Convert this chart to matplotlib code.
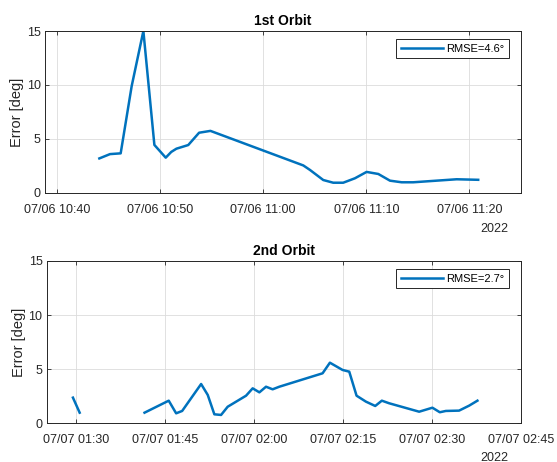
import numpy as np
import pandas as pd
import matplotlib
matplotlib.use("Agg")
import matplotlib.pyplot as plt
import matplotlib.dates as mdates

plt.rcParams["font.family"] = ["Liberation Sans", "DejaVu Sans"]

# 1st orbit (2022-07-06)
orbit1_time = ["10:44:08", "10:45:10", "10:46:12", "10:47:16", "10:48:24", "10:49:28",
               "10:50:34", "10:51:06", "10:51:36", "10:52:45", "10:53:48", "10:54:54",
               "11:03:54", "11:04:33", "11:05:50", "11:06:48", "11:07:46", "11:08:54",
               "11:10:02", "11:11:10", "11:12:18", "11:13:26", "11:14:33", "11:18:46",
               "11:20:51"]
orbit1_err = [3.2, 3.6, 3.67, 9.9, 15.0, 4.45,
              3.27, 3.8, 4.1, 4.44, 5.58, 5.75,
              2.55, 2.13, 1.2, 0.95, 0.95, 1.36,
              1.95, 1.76, 1.14, 0.99, 0.99, 1.27,
              1.22]

# 2nd orbit (2022-07-07), NaN marks the data gap
orbit2_time = ["01:29:26", "01:30:34", "01:36:00", "01:41:31", "01:45:36", "01:46:51",
               "01:47:52", "01:51:04", "01:52:11", "01:53:18", "01:54:26", "01:55:33",
               "01:58:39", "01:59:46", "02:00:54", "02:02:01", "02:03:08", "02:04:16",
               "02:11:34", "02:12:48", "02:14:56", "02:16:04", "02:17:18", "02:18:53",
               "02:20:27", "02:21:34", "02:22:48", "02:27:52", "02:30:06", "02:31:21",
               "02:32:22", "02:34:36", "02:36:18", "02:37:42"]
orbit2_err = [2.37, 0.98, np.nan, 0.98, 2.09, 0.92,
              1.14, 3.63, 2.62, 0.83, 0.77, 1.53,
              2.55, 3.23, 2.86, 3.38, 3.14, 3.38,
              4.62, 5.6, 4.93, 4.77, 2.55, 2.0,
              1.6, 2.09, 1.85, 1.07, 1.44, 1.02,
              1.14, 1.17, 1.63, 2.09]

panels = [
    dict(day="2022-07-06", time=orbit1_time, err=orbit1_err, title="1st Orbit",
         rmse="RMSE=4.6°", xlim=("10:38:52", "11:24:58"), step=10,
         rect=[0.0808, 0.5823, 0.854, 0.3506], year_dy=-26),
    dict(day="2022-07-07", time=orbit2_time, err=orbit2_err, title="2nd Orbit",
         rmse="RMSE=2.7°", xlim=("01:25:00", "02:45:00"), step=15,
         rect=[0.0838, 0.0838, 0.851, 0.3513], year_dy=-25),
]

blue = "#0072BD"
dark = "#262626"

fig = plt.figure(figsize=(5.57, 4.62), dpi=100)

for p in panels:
    ax = fig.add_axes(p["rect"])
    t = pd.to_datetime([p["day"] + " " + s for s in p["time"]])
    ax.plot(t, p["err"], color=blue, linewidth=1.8, label=p["rmse"])

    ax.set_xlim(pd.Timestamp(p["day"] + " " + p["xlim"][0]),
                pd.Timestamp(p["day"] + " " + p["xlim"][1]))
    ax.set_ylim(0, 15)
    ax.set_yticks([0, 5, 10, 15])
    ax.xaxis.set_major_locator(mdates.MinuteLocator(byminute=range(0, 60, p["step"])))
    ax.xaxis.set_major_formatter(mdates.DateFormatter("%m/%d %H:%M"))

    ax.grid(True, color="#dcdcdc", linewidth=0.6)
    ax.set_axisbelow(True)
    ax.tick_params(direction="in", length=3, width=0.6, top=True, right=True,
                   labelsize=9, colors=dark)
    ax.tick_params(axis="x", pad=8)
    ax.tick_params(axis="y", pad=3)
    for s in ax.spines.values():
        s.set_color(dark)
        s.set_linewidth(0.7)

    ax.set_title(p["title"], fontsize=10, fontweight="bold", color="black", pad=4)
    ax.set_ylabel("Error [deg]", fontsize=10.5, color=dark, labelpad=2)
    ax.annotate("2022", xy=(1, 0), xycoords="axes fraction", xytext=(-9, p["year_dy"]),
                textcoords="offset points", ha="right", va="center",
                fontsize=9, color=dark)

    leg = ax.legend(loc="upper right", bbox_to_anchor=(0.9754, 0.9488), borderaxespad=0,
                    fontsize=8, handlelength=3.8, handletextpad=0.3, borderpad=0.4,
                    fancybox=False, framealpha=1)
    leg.get_frame().set_edgecolor(dark)
    leg.get_frame().set_linewidth(0.7)

fig.savefig("out.png", dpi=100)
